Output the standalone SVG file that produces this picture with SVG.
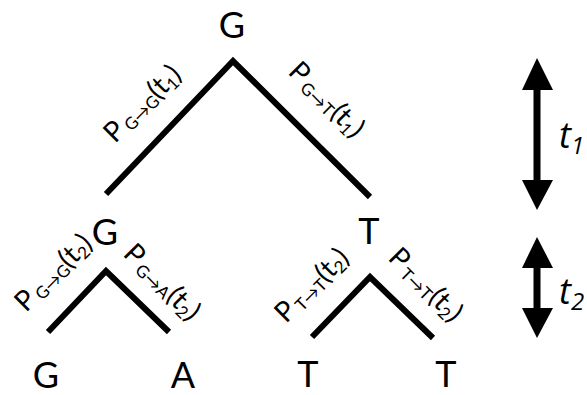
<svg xmlns="http://www.w3.org/2000/svg" width="587" height="395" viewBox="0 0 587 395">
<style>
.node{font-family:Lato,"Open Sans","Liberation Sans",sans-serif;font-size:36px;fill:#000;text-anchor:middle}
.lbl{font-family:Lato,"Open Sans","DejaVu Sans",sans-serif;font-size:28px;fill:#000}
.sub{font-size:17px}
.edge{stroke:#000;stroke-width:6;fill:none;stroke-linejoin:miter}
.tl{font-family:"Open Sans","Liberation Sans",sans-serif;font-style:italic;font-size:36px;fill:#000}
.tls{font-size:24px}
</style>
<rect width="587" height="395" fill="#fff"/>
<g id="connectors">
<polyline class="edge" points="106,194 233,61 370,197"/>
<polyline class="edge" points="48,332 106,271 169,332"/>
<polyline class="edge" points="312,337 370,277 433,338"/>
<text class="lbl" transform="translate(115,144) rotate(-45)">P<tspan class="sub" dx="3" dy="3">G→G</tspan><tspan dy="-3">(t</tspan><tspan class="sub" dy="4">1</tspan><tspan dy="-4">)</tspan></text>
<text class="lbl" transform="translate(287,73) rotate(45)">P<tspan class="sub" dx="3" dy="3">G→T</tspan><tspan dy="-3">(t</tspan><tspan class="sub" dy="4">1</tspan><tspan dy="-4">)</tspan></text>
<text class="lbl" transform="translate(26,313) rotate(-45)">P<tspan class="sub" dx="3" dy="3">G→G</tspan><tspan dy="-3">(t</tspan><tspan class="sub" dy="4">2</tspan><tspan dy="-4">)</tspan></text>
<text class="lbl" transform="translate(122,255) rotate(45)">P<tspan class="sub" dx="3" dy="3">G→A</tspan><tspan dy="-3">(t</tspan><tspan class="sub" dy="4">2</tspan><tspan dy="-4">)</tspan></text>
<text class="lbl" transform="translate(286,324) rotate(-45)">P<tspan class="sub" dx="3" dy="3">T→T</tspan><tspan dy="-3">(t</tspan><tspan class="sub" dy="4">2</tspan><tspan dy="-4">)</tspan></text>
<text class="lbl" transform="translate(387,259) rotate(45)">P<tspan class="sub" dx="3" dy="3">T→T</tspan><tspan dy="-3">(t</tspan><tspan class="sub" dy="4">2</tspan><tspan dy="-4">)</tspan></text>
</g>
<g id="root"><text class="node" x="232" y="38">G</text></g>
<g id="node-G-mid"><text class="node" x="105" y="245">G</text></g>
<g id="node-T-mid"><text class="node" x="369" y="244">T</text></g>
<g id="leaf-G"><text class="node" x="46" y="388">G</text></g>
<g id="leaf-A"><text class="node" x="183" y="388">A</text></g>
<g id="leaf-T1"><text class="node" x="308" y="387">T</text></g>
<g id="leaf-T2"><text class="node" x="446" y="387">T</text></g>
<g id="time-scale">
<rect x="533.5" y="88" width="7" height="94" fill="#000"/>
<polygon points="537,58 522,90 553,90" fill="#000"/>
<polygon points="537,210 522,180 553,180" fill="#000"/>
<rect x="533.5" y="266" width="7" height="44" fill="#000"/>
<polygon points="537,237 522,268 553,268" fill="#000"/>
<polygon points="537,338 522,308 553,308" fill="#000"/>
<text class="tl" x="559" y="148">t<tspan class="tls" dy="6">1</tspan></text>
<text class="tl" x="559" y="304">t<tspan class="tls" dy="6">2</tspan></text>
</g>
</svg>
